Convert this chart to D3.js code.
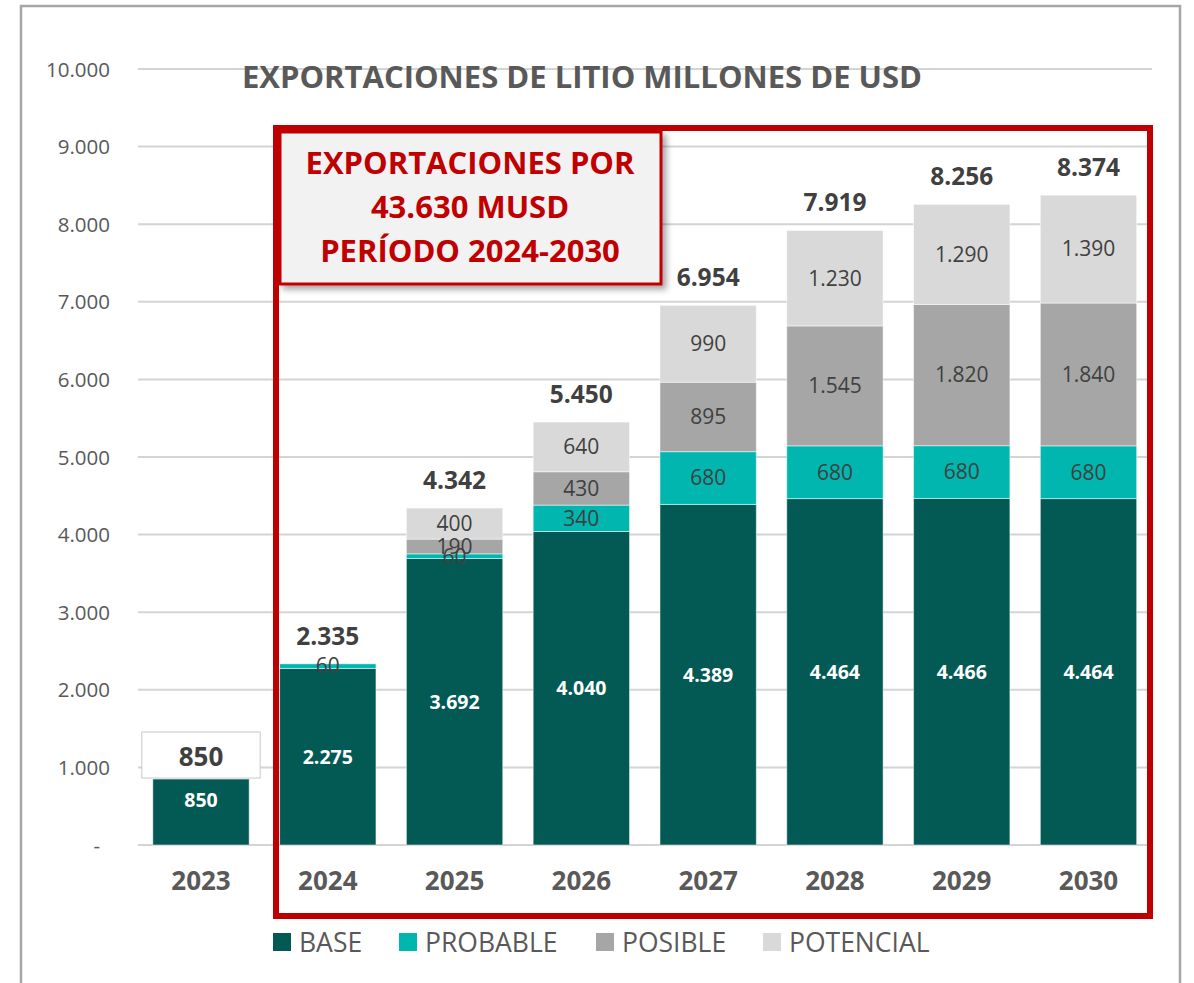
<!DOCTYPE html>
<html>
<head>
<meta charset="utf-8">
<script src="https://cdn.jsdelivr.net/npm/d3@7"></script>
<style>
  body { margin: 0; background: #fff; }
  text { font-family: "Open Sans", sans-serif; }
</style>
</head>
<body>
<script>
// Data (millones de USD)
var years = ["2023", "2024", "2025", "2026", "2027", "2028", "2029", "2030"];
var base = [850, 2275, 3692, 4040, 4389, 4464, 4466, 4464];
var probable = [0, 60, 60, 340, 680, 680, 680, 680];
var posible = [0, 0, 190, 430, 895, 1545, 1820, 1840];
var potencial = [0, 0, 400, 640, 990, 1230, 1290, 1390];
var seriesNames = ["BASE", "PROBABLE", "POSIBLE", "POTENCIAL"];
var yTicks = [0, 1000, 2000, 3000, 4000, 5000, 6000, 7000, 8000, 9000, 10000];

var colors = ["#035a55", "#00b6ae", "#a6a6a6", "#d9d9d9"];

var W = 1194, H = 983;

var svg = d3.select("body").append("svg")
    .attr("width", W)
    .attr("height", H);

// drop shadow for the callout box
var defs = svg.append("defs");
defs.append("filter")
    .attr("id", "shadow")
    .attr("x", "-10%").attr("y", "-10%")
    .attr("width", "130%").attr("height", "130%")
  .append("feDropShadow")
    .attr("dx", 4).attr("dy", 4)
    .attr("stdDeviation", 3)
    .attr("flood-color", "#000")
    .attr("flood-opacity", 0.35);

// outer frame (left, top, right)
svg.append("path")
    .attr("d", "M21,983 V6 H1180 V983")
    .attr("fill", "none")
    .attr("stroke", "#a6a6a6")
    .attr("stroke-width", 2.5);

// scales
var x = d3.scaleBand()
    .domain(years)
    .range([137.6, 1151.9])
    .paddingInner(0.24)
    .paddingOuter(0.12);

var y = d3.scaleLinear()
    .domain([0, 10000])
    .range([845, 69]);

var loc = d3.formatLocale({decimal: ",", thousands: ".", grouping: [3], currency: ["$", ""]});
var fmt = loc.format(",d");

// gridlines
svg.append("g")
  .selectAll("line")
  .data(yTicks)
  .join("line")
    .attr("x1", 138)
    .attr("x2", 1152)
    .attr("y1", function(d) { return y(d); })
    .attr("y2", function(d) { return y(d); })
    .attr("stroke", "#d4d4d4")
    .attr("stroke-width", 2);

// y axis labels
var yAxis = d3.axisLeft(y)
    .tickValues(yTicks)
    .tickSize(0)
    .tickPadding(0)
    .tickFormat(function(d) { return d === 0 ? "-" : fmt(d); });

var gy = svg.append("g")
    .attr("transform", "translate(110,0)")
    .call(yAxis);
gy.select(".domain").remove();
gy.selectAll("text")
    .attr("fill", "#595959")
    .style("font-size", "20.5px")
    .attr("dy", "0.35em");
gy.selectAll(".tick").filter(function(d) { return d === 0; })
    .select("text").attr("x", -10);

// stack the series
var rows = years.map(function(yr, i) {
  return {year: yr, BASE: base[i], PROBABLE: probable[i], POSIBLE: posible[i], POTENCIAL: potencial[i]};
});
var stacked = d3.stack().keys(seriesNames)(rows);

var layers = svg.append("g")
  .selectAll("g")
  .data(stacked)
  .join("g")
    .attr("fill", function(d, i) { return colors[i]; });

layers.selectAll("rect")
  .data(function(d) { return d.filter(function(s) { return s[1] - s[0] > 0; }); })
  .join("rect")
    .attr("x", function(d) { return x(d.data.year); })
    .attr("width", x.bandwidth())
    .attr("y", function(d) { return y(d[1]); })
    .attr("height", function(d) { return y(d[0]) - y(d[1]); })
    .attr("stroke", "#ffffff")
    .attr("stroke-opacity", 0.5)
    .attr("stroke-width", 1);

// segment labels
stacked.forEach(function(layer, li) {
  svg.append("g")
    .selectAll("text")
    .data(layer.filter(function(s) { return s[1] - s[0] > 0; }))
    .join("text")
      .attr("x", function(d) { return x(d.data.year) + x.bandwidth() / 2; })
      .attr("y", function(d, i) {
        var mid = (y(d[0]) + y(d[1])) / 2;
        // Excel nudged the first base label up a bit
        return (li === 0 && d.data.year === "2023") ? mid - 12 : mid;
      })
      .attr("dy", "0.35em")
      .attr("text-anchor", "middle")
      .attr("fill", li === 0 ? "#ffffff" : "#404040")
      .style("font-size", li === 0 ? "19.5px" : "21px")
      .style("font-weight", li === 0 ? "bold" : "normal")
      .text(function(d) { return fmt(d[1] - d[0]); });
});

// totals
var totals = rows.map(function(r) { return r.BASE + r.PROBABLE + r.POSIBLE + r.POTENCIAL; });

// 2023 total sits in a white boxed label
svg.append("rect")
    .attr("x", x("2023") - 11)
    .attr("y", y(totals[0]) - 47)
    .attr("width", x.bandwidth() + 22)
    .attr("height", 46)
    .attr("fill", "#ffffff")
    .attr("stroke", "#c8c8c8")
    .attr("stroke-width", 1);

svg.append("g")
  .selectAll("text")
  .data(rows)
  .join("text")
    .attr("x", function(d) { return x(d.year) + x.bandwidth() / 2; })
    .attr("y", function(d, i) { return i === 0 ? y(totals[i]) - 13 : y(totals[i]) - 19; })
    .attr("text-anchor", "middle")
    .attr("fill", "#404040")
    .style("font-size", function(d, i) { return i === 0 ? "26px" : "24.5px"; })
    .style("font-weight", "bold")
    .text(function(d, i) { return fmt(totals[i]); });

// x axis labels
var gx = svg.append("g")
    .attr("transform", "translate(0,845)")
    .call(d3.axisBottom(x).tickSize(0).tickPadding(0));
gx.select(".domain").remove();
gx.selectAll("text")
    .attr("y", 45)
    .attr("dy", 0)
    .attr("fill", "#595959")
    .style("font-size", "26px")
    .style("font-weight", "bold");

// red frame around 2024-2030
svg.append("rect")
    .attr("x", 276)
    .attr("y", 128)
    .attr("width", 874)
    .attr("height", 788)
    .attr("fill", "none")
    .attr("stroke", "#c00000")
    .attr("stroke-width", 6);

// callout
svg.append("rect")
    .attr("x", 280)
    .attr("y", 132)
    .attr("width", 381)
    .attr("height", 152)
    .attr("fill", "#f2f2f2")
    .attr("stroke", "#c00000")
    .attr("stroke-width", 3)
    .attr("filter", "url(#shadow)");

var callLines = ["EXPORTACIONES POR", "43.630 MUSD", "PERÍODO 2024-2030"];
svg.append("g")
  .selectAll("text")
  .data(callLines)
  .join("text")
    .attr("x", 470)
    .attr("y", function(d, i) { return 174 + i * 44; })
    .attr("text-anchor", "middle")
    .attr("fill", "#c00000")
    .style("font-size", "31px")
    .style("font-weight", "bold")
    .text(function(d) { return d; });

// title
svg.append("text")
    .attr("x", 582)
    .attr("y", 88)
    .attr("text-anchor", "middle")
    .attr("fill", "#595959")
    .style("font-size", "31px")
    .style("font-weight", "bold")
    .text("EXPORTACIONES DE LITIO MILLONES DE USD");

// legend
var legendX = [273, 399, 596, 763];
var legend = svg.append("g")
  .selectAll("g")
  .data(seriesNames)
  .join("g")
    .attr("transform", function(d, i) { return "translate(" + legendX[i] + ",933)"; });
legend.append("rect")
    .attr("width", 18)
    .attr("height", 18)
    .attr("fill", function(d, i) { return colors[i]; });
legend.append("text")
    .attr("x", 26)
    .attr("y", 19)
    .attr("fill", "#595959")
    .style("font-size", "26.5px")
    .text(function(d) { return d; });
</script>
</body>
</html>
